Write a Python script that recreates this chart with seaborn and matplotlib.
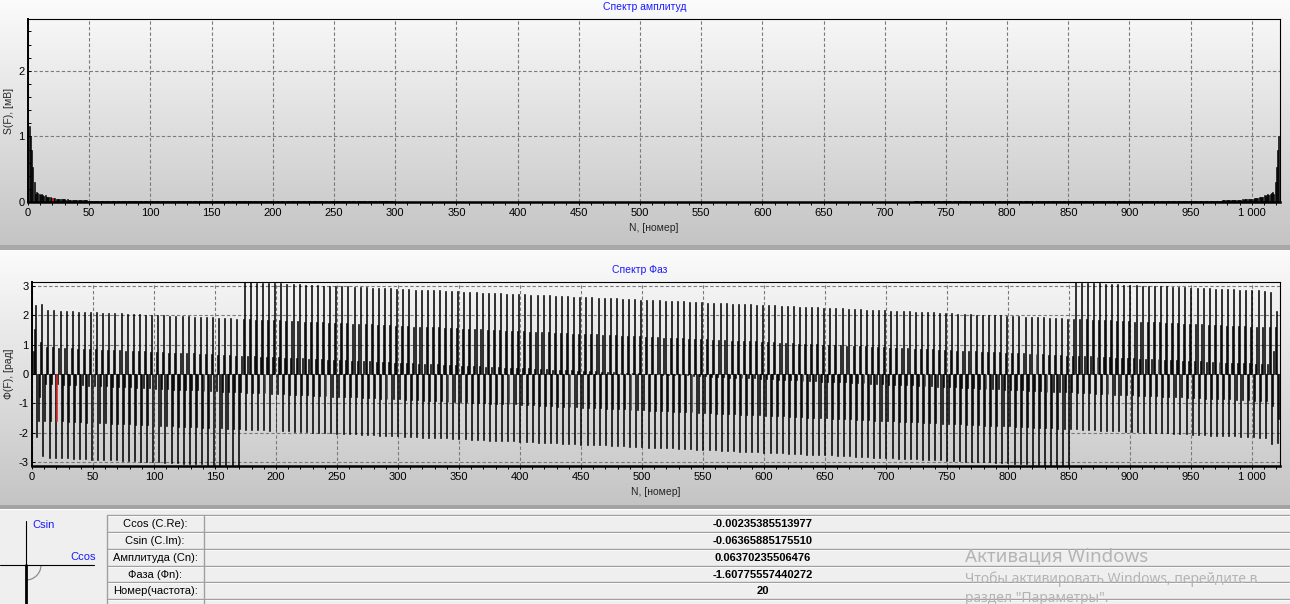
import numpy as np
import pandas as pd
import seaborn as sns
import matplotlib.pyplot as plt
from matplotlib.patches import Arc
from matplotlib.ticker import MultipleLocator, FuncFormatter

# Amplitude spectrum S(F), mV, harmonics 0..1023
amplitude = [
    2.79, 1.16, 1.00, 0.79, 0.53, 0.31, 0.12, 0.15, 0.14, 0.12,
    0.11, 0.12, 0.10, 0.09, 0.10, 0.08, 0.07, 0.08, 0.07, 0.06,
    0.0637, 0.06, 0.055, 0.05, 0.05, 0.045, 0.05, 0.045, 0.04, 0.04,
    0.04, 0.035, 0.04, 0.035, 0.03, 0.035, 0.03, 0.03, 0.03, 0.028,
    0.03, 0.027, 0.027, 0.025, 0.026, 0.024, 0.025, 0.023, 0.023, 0.022,
    0.022, 0.021, 0.022, 0.02, 0.021, 0.02, 0.019, 0.02, 0.018, 0.018,
    # 60..99
    .015, .015, .015, .015, .015, .015, .015, .015, .015, .015, .015, .015, .015, .015, .015, .015, .015, .015, .015, .015,
    .015, .015, .015, .015, .015, .015, .015, .015, .015, .015, .015, .015, .015, .015, .015, .015, .015, .015, .015, .015,
    # 100..199
    .01, .01, .01, .01, .01, .01, .01, .01, .01, .01, .01, .01, .01, .01, .01, .01, .01, .01, .01, .01,
    .01, .01, .01, .01, .01, .01, .01, .01, .01, .01, .01, .01, .01, .01, .01, .01, .01, .01, .01, .01,
    .01, .01, .01, .01, .01, .01, .01, .01, .01, .01, .01, .01, .01, .01, .01, .01, .01, .01, .01, .01,
    .01, .01, .01, .01, .01, .01, .01, .01, .01, .01, .01, .01, .01, .01, .01, .01, .01, .01, .01, .01,
    .01, .01, .01, .01, .01, .01, .01, .01, .01, .01, .01, .01, .01, .01, .01, .01, .01, .01, .01, .01,
    # 200..299
    .008, .008, .008, .008, .008, .008, .008, .008, .008, .008, .008, .008, .008, .008, .008, .008, .008, .008, .008, .008,
    .008, .008, .008, .008, .008, .008, .008, .008, .008, .008, .008, .008, .008, .008, .008, .008, .008, .008, .008, .008,
    .008, .008, .008, .008, .008, .008, .008, .008, .008, .008, .008, .008, .008, .008, .008, .008, .008, .008, .008, .008,
    .008, .008, .008, .008, .008, .008, .008, .008, .008, .008, .008, .008, .008, .008, .008, .008, .008, .008, .008, .008,
    .008, .008, .008, .008, .008, .008, .008, .008, .008, .008, .008, .008, .008, .008, .008, .008, .008, .008, .008, .008,
    # 300..399
    .006, .006, .006, .006, .006, .006, .006, .006, .006, .006, .006, .006, .006, .006, .006, .006, .006, .006, .006, .006,
    .006, .006, .006, .006, .006, .006, .006, .006, .006, .006, .006, .006, .006, .006, .006, .006, .006, .006, .006, .006,
    .006, .006, .006, .006, .006, .006, .006, .006, .006, .006, .006, .006, .006, .006, .006, .006, .006, .006, .006, .006,
    .006, .006, .006, .006, .006, .006, .006, .006, .006, .006, .006, .006, .006, .006, .006, .006, .006, .006, .006, .006,
    .006, .006, .006, .006, .006, .006, .006, .006, .006, .006, .006, .006, .006, .006, .006, .006, .006, .006, .006, .006,
    # 400..623
    .005, .005, .005, .005, .005, .005, .005, .005, .005, .005, .005, .005, .005, .005, .005, .005, .005, .005, .005, .005,
    .005, .005, .005, .005, .005, .005, .005, .005, .005, .005, .005, .005, .005, .005, .005, .005, .005, .005, .005, .005,
    .005, .005, .005, .005, .005, .005, .005, .005, .005, .005, .005, .005, .005, .005, .005, .005, .005, .005, .005, .005,
    .005, .005, .005, .005, .005, .005, .005, .005, .005, .005, .005, .005, .005, .005, .005, .005, .005, .005, .005, .005,
    .005, .005, .005, .005, .005, .005, .005, .005, .005, .005, .005, .005, .005, .005, .005, .005, .005, .005, .005, .005,
    .005, .005, .005, .005, .005, .005, .005, .005, .005, .005, .005, .005, .005, .005, .005, .005, .005, .005, .005, .005,
    .005, .005, .005, .005, .005, .005, .005, .005, .005, .005, .005, .005, .005, .005, .005, .005, .005, .005, .005, .005,
    .005, .005, .005, .005, .005, .005, .005, .005, .005, .005, .005, .005, .005, .005, .005, .005, .005, .005, .005, .005,
    .005, .005, .005, .005, .005, .005, .005, .005, .005, .005, .005, .005, .005, .005, .005, .005, .005, .005, .005, .005,
    .005, .005, .005, .005, .005, .005, .005, .005, .005, .005, .005, .005, .005, .005, .005, .005, .005, .005, .005, .005,
    .005, .005, .005, .005, .005, .005, .005, .005, .005, .005, .005, .005, .005, .005, .005, .005, .005, .005, .005, .005,
    .005, .005, .005, .005,
    # 624..723
    .006, .006, .006, .006, .006, .006, .006, .006, .006, .006, .006, .006, .006, .006, .006, .006, .006, .006, .006, .006,
    .006, .006, .006, .006, .006, .006, .006, .006, .006, .006, .006, .006, .006, .006, .006, .006, .006, .006, .006, .006,
    .006, .006, .006, .006, .006, .006, .006, .006, .006, .006, .006, .006, .006, .006, .006, .006, .006, .006, .006, .006,
    .006, .006, .006, .006, .006, .006, .006, .006, .006, .006, .006, .006, .006, .006, .006, .006, .006, .006, .006, .006,
    .006, .006, .006, .006, .006, .006, .006, .006, .006, .006, .006, .006, .006, .006, .006, .006, .006, .006, .006, .006,
    # 724..823
    .008, .008, .008, .008, .008, .008, .008, .008, .008, .008, .008, .008, .008, .008, .008, .008, .008, .008, .008, .008,
    .008, .008, .008, .008, .008, .008, .008, .008, .008, .008, .008, .008, .008, .008, .008, .008, .008, .008, .008, .008,
    .008, .008, .008, .008, .008, .008, .008, .008, .008, .008, .008, .008, .008, .008, .008, .008, .008, .008, .008, .008,
    .008, .008, .008, .008, .008, .008, .008, .008, .008, .008, .008, .008, .008, .008, .008, .008, .008, .008, .008, .008,
    .008, .008, .008, .008, .008, .008, .008, .008, .008, .008, .008, .008, .008, .008, .008, .008, .008, .008, .008, .008,
    # 824..923
    .01, .01, .01, .01, .01, .01, .01, .01, .01, .01, .01, .01, .01, .01, .01, .01, .01, .01, .01, .01,
    .01, .01, .01, .01, .01, .01, .01, .01, .01, .01, .01, .01, .01, .01, .01, .01, .01, .01, .01, .01,
    .01, .01, .01, .01, .01, .01, .01, .01, .01, .01, .01, .01, .01, .01, .01, .01, .01, .01, .01, .01,
    .01, .01, .01, .01, .01, .01, .01, .01, .01, .01, .01, .01, .01, .01, .01, .01, .01, .01, .01, .01,
    .01, .01, .01, .01, .01, .01, .01, .01, .01, .01, .01, .01, .01, .01, .01, .01, .01, .01, .01, .01,
    # 924..964
    .015, .015, .015, .015, .015, .015, .015, .015, .015, .015, .015, .015, .015, .015, .015, .015, .015, .015, .015, .015,
    .015, .015, .015, .015, .015, .015, .015, .015, .015, .015, .015, .015, .015, .015, .015, .015, .015, .015, .015, .015,
    .015,
    # 965..1023
    0.018, 0.018, 0.02, 0.019, 0.02, 0.021, 0.02, 0.022, 0.021,
    0.022, 0.022, 0.023, 0.023, 0.025, 0.024, 0.026, 0.025, 0.027, 0.027,
    0.03, 0.028, 0.03, 0.03, 0.03, 0.035, 0.03, 0.035, 0.04, 0.035,
    0.04, 0.04, 0.04, 0.045, 0.05, 0.045, 0.05, 0.05, 0.055, 0.06,
    0.064, 0.06, 0.07, 0.08, 0.07, 0.08, 0.10, 0.09, 0.10, 0.12,
    0.11, 0.12, 0.14, 0.15, 0.12, 0.31, 0.53, 0.79, 1.00, 1.16,
]

# Phase spectrum Ф(F), rad, harmonics 0..1023
phase = [
    3.14, 0.77, 1.55, 2.35, -2.15, -1.6, -0.8, 1.1, 2.4, -2.8,
    -1.59, -0.33, 0.92, 2.18, -2.85, -1.60, -0.34, 0.91, 2.17, -2.86,
    -1.61, -0.35, 0.90, 2.16, -2.87, -1.62, -0.36, 0.89, 2.15, -2.88,
    -1.63, -0.37, 0.88, 2.14, -2.89, -1.64, -0.38, 0.87, 2.13, -2.90,
    -1.65, -0.39, 0.86, 2.12, -2.91, -1.66, -0.40, 0.85, 2.11, -2.92,
    -1.67, -0.41, 0.84, 2.10, -2.93, -1.68, -0.42, 0.83, 2.09, -2.94,
    -1.68, -0.42, 0.83, 2.09, -2.94, -1.69, -0.43, 0.82, 2.08, -2.95,
    -1.70, -0.44, 0.81, 2.07, -2.96, -1.71, -0.45, 0.80, 2.06, -2.97,
    -1.72, -0.46, 0.79, 2.05, -2.98, -1.73, -0.47, 0.78, 2.04, -2.99,
    -1.74, -0.48, 0.77, 2.03, -3.00, -1.75, -0.49, 0.76, 2.02, -3.01,
    -1.76, -0.50, 0.75, 2.01, -3.02, -1.77, -0.51, 0.74, 2.00, -3.03,
    -1.78, -0.52, 0.73, 1.99, -3.04, -1.79, -0.53, 0.72, 1.98, -3.05,
    -1.80, -0.54, 0.71, 1.97, -3.06, -1.80, -0.54, 0.71, 1.97, -3.06,
    -1.81, -0.55, 0.70, 1.96, -3.07, -1.82, -0.56, 0.69, 1.95, -3.08,
    -1.83, -0.57, 0.68, 1.94, -3.09, -1.84, -0.58, 0.67, 1.93, -3.10,
    -1.85, -0.59, 0.66, 1.92, -3.11, -1.86, -0.60, 0.65, 1.91, -3.12,
    -1.87, -0.61, 0.64, 1.90, -3.13, -1.88, -0.62, 0.63, 1.89, -3.14,
    -1.89, -0.63, 0.62, 1.88, 3.14, -1.90, -0.64, 0.61, 1.87, 3.13,
    -1.91, -0.65, 0.60, 1.86, 3.12, -1.92, -0.66, 0.59, 1.85, 3.11,
    -1.92, -0.66, 0.59, 1.85, 3.11, -1.93, -0.67, 0.58, 1.84, 3.10,
    -1.94, -0.68, 0.57, 1.83, 3.09, -1.95, -0.69, 0.56, 1.82, 3.08,
    -1.96, -0.70, 0.55, 1.81, 3.07, -1.97, -0.71, 0.54, 1.80, 3.06,
    -1.98, -0.72, 0.53, 1.79, 3.05, -1.99, -0.73, 0.52, 1.78, 3.04,
    -2.00, -0.74, 0.51, 1.77, 3.03, -2.01, -0.75, 0.50, 1.76, 3.02,
    -2.02, -0.76, 0.49, 1.75, 3.01, -2.03, -0.77, 0.48, 1.74, 3.00,
    -2.04, -0.78, 0.47, 1.73, 2.99, -2.04, -0.78, 0.47, 1.73, 2.99,
    -2.05, -0.79, 0.46, 1.72, 2.98, -2.06, -0.80, 0.45, 1.71, 2.97,
    -2.07, -0.81, 0.44, 1.70, 2.96, -2.08, -0.82, 0.43, 1.69, 2.95,
    -2.09, -0.83, 0.42, 1.68, 2.94, -2.10, -0.84, 0.41, 1.67, 2.93,
    -2.11, -0.85, 0.40, 1.66, 2.92, -2.12, -0.86, 0.39, 1.65, 2.91,
    -2.13, -0.87, 0.38, 1.64, 2.90, -2.14, -0.88, 0.37, 1.63, 2.89,
    -2.15, -0.89, 0.36, 1.62, 2.88, -2.16, -0.90, 0.35, 1.61, 2.87,
    -2.17, -0.91, 0.34, 1.60, 2.86, -2.17, -0.91, 0.34, 1.60, 2.86,
    -2.18, -0.92, 0.33, 1.59, 2.85, -2.19, -0.93, 0.32, 1.58, 2.84,
    -2.20, -0.94, 0.31, 1.57, 2.83, -2.21, -0.95, 0.30, 1.56, 2.82,
    -2.22, -0.96, 0.29, 1.55, 2.81, -2.23, -0.97, 0.28, 1.54, 2.80,
    -2.24, -0.98, 0.27, 1.53, 2.79, -2.25, -0.99, 0.26, 1.52, 2.78,
    -2.26, -1.00, 0.25, 1.51, 2.77, -2.27, -1.01, 0.24, 1.50, 2.76,
    -2.28, -1.02, 0.23, 1.49, 2.75, -2.29, -1.03, 0.22, 1.48, 2.74,
    -2.29, -1.03, 0.22, 1.48, 2.74, -2.30, -1.04, 0.21, 1.47, 2.73,
    -2.31, -1.05, 0.20, 1.46, 2.72, -2.32, -1.06, 0.19, 1.45, 2.71,
    -2.33, -1.07, 0.18, 1.44, 2.70, -2.34, -1.08, 0.17, 1.43, 2.69,
    -2.35, -1.09, 0.16, 1.42, 2.68, -2.36, -1.10, 0.15, 1.41, 2.67,
    -2.37, -1.11, 0.14, 1.40, 2.66, -2.38, -1.12, 0.13, 1.39, 2.65,
    -2.39, -1.13, 0.12, 1.38, 2.64, -2.40, -1.14, 0.11, 1.37, 2.63,
    -2.41, -1.15, 0.10, 1.36, 2.62, -2.41, -1.15, 0.10, 1.36, 2.62,
    -2.42, -1.16, 0.09, 1.35, 2.61, -2.43, -1.17, 0.08, 1.34, 2.60,
    -2.44, -1.18, 0.07, 1.33, 2.59, -2.45, -1.19, 0.06, 1.32, 2.58,
    -2.46, -1.20, 0.05, 1.31, 2.57, -2.47, -1.21, 0.04, 1.30, 2.56,
    -2.48, -1.22, 0.03, 1.29, 2.55, -2.49, -1.23, 0.02, 1.28, 2.54,
    -2.50, -1.24, 0.01, 1.27, 2.53, -2.51, -1.25, 0.00, 1.26, 2.52,
    -2.52, -1.26, -0.01, 1.25, 2.51, -2.53, -1.27, -0.02, 1.24, 2.50,
    -2.53, -1.27, -0.02, 1.24, 2.50, -2.54, -1.28, -0.03, 1.23, 2.49,
    -2.55, -1.29, -0.04, 1.22, 2.48, -2.56, -1.30, -0.05, 1.21, 2.47,
    -2.57, -1.31, -0.06, 1.20, 2.46, -2.58, -1.32, -0.07, 1.19, 2.45,
    -2.59, -1.33, -0.08, 1.18, 2.44, -2.60, -1.34, -0.09, 1.17, 2.43,
    -2.61, -1.35, -0.10, 1.16, 2.42, -2.62, -1.36, -0.11, 1.15, 2.41,
    -2.63, -1.37, -0.12, 1.14, 2.40, -2.64, -1.38, -0.13, 1.13, 2.39,
    -2.65, -1.39, -0.14, 1.12, 2.38, -2.65, -1.39, -0.14, 1.12, 2.38,
    -2.66, -1.40, -0.15, 1.11, 2.37, -2.67, -1.41, -0.16, 1.10, 2.36,
    -2.68, -1.42, -0.17, 1.09, 2.35, -2.69, -1.43, -0.18, 1.08, 2.34,
    -2.70, -1.44, -0.19, 1.07, 2.33, -2.71, -1.45, -0.20, 1.06, 2.32,
    -2.72, -1.46, -0.21, 1.05, 2.31, -2.73, -1.47, -0.22, 1.04, 2.30,
    -2.74, -1.48, -0.23, 1.03, 2.29, -2.75, -1.49, -0.24, 1.02, 2.28,
    -2.76, -1.50, -0.25, 1.01, 2.27, -2.77, -1.51, -0.26, 1.00, 2.26,
    -2.77, -1.51, -0.26, 1.00, 2.26, -2.78, -1.52, -0.27, 0.99, 2.25,
    -2.79, -1.53, -0.28, 0.98, 2.24, -2.80, -1.54, -0.29, 0.97, 2.23,
    -2.81, -1.55, -0.30, 0.96, 2.22, -2.82, -1.56, -0.31, 0.95, 2.21,
    -2.83, -1.57, -0.32, 0.94, 2.20, -2.84, -1.58, -0.33, 0.93, 2.19,
    -2.85, -1.59, -0.34, 0.92, 2.18, -2.86, -1.60, -0.35, 0.91, 2.17,
    -2.87, -1.61, -0.36, 0.90, 2.16, -2.88, -1.62, -0.37, 0.89, 2.15,
    -2.89, -1.63, -0.38, 0.88, 2.14, -2.89, -1.63, -0.38, 0.88, 2.14,
    -2.90, -1.64, -0.39, 0.87, 2.13, -2.91, -1.65, -0.40, 0.86, 2.12,
    -2.92, -1.66, -0.41, 0.85, 2.11, -2.93, -1.67, -0.42, 0.84, 2.10,
    -2.94, -1.68, -0.43, 0.83, 2.09, -2.95, -1.69, -0.44, 0.82, 2.08,
    -2.96, -1.70, -0.45, 0.81, 2.07, -2.97, -1.71, -0.46, 0.80, 2.06,
    -2.98, -1.72, -0.47, 0.79, 2.05, -2.99, -1.73, -0.48, 0.78, 2.04,
    -3.00, -1.74, -0.49, 0.77, 2.03, -3.01, -1.75, -0.50, 0.76, 2.02,
    -3.02, -1.76, -0.51, 0.75, 2.01, -3.02, -1.76, -0.51, 0.75, 2.01,
    -3.03, -1.77, -0.52, 0.74, 2.00, -3.04, -1.78, -0.53, 0.73, 1.99,
    -3.05, -1.79, -0.54, 0.72, 1.98, -3.06, -1.80, -0.55, 0.71, 1.97,
    -3.07, -1.81, -0.56, 0.70, 1.96, -3.08, -1.82, -0.57, 0.69, 1.95,
    -3.09, -1.83, -0.58, 0.68, 1.94, -3.10, -1.84, -0.59, 0.67, 1.93,
    -3.11, -1.85, -0.60, 0.66, 1.92, -3.12, -1.86, -0.61, 0.65, 1.91,
    -3.13, -1.87, -0.62, 0.64, 1.90, -3.14, -1.88, -0.63, 0.63, 1.89,
    -3.14, -1.88, -0.63, 0.63, 1.89, 3.13, -1.89, -0.64, 0.62, 1.88,
    3.12, -1.90, -0.65, 0.61, 1.87, 3.11, -1.91, -0.66, 0.60, 1.86,
    3.10, -1.92, -0.67, 0.59, 1.85, 3.09, -1.93, -0.68, 0.58, 1.84,
    3.08, -1.94, -0.69, 0.57, 1.83, 3.07, -1.95, -0.70, 0.56, 1.82,
    3.06, -1.96, -0.71, 0.55, 1.81, 3.05, -1.97, -0.72, 0.54, 1.80,
    3.04, -1.98, -0.73, 0.53, 1.79, 3.03, -1.99, -0.74, 0.52, 1.78,
    3.02, -2.00, -0.75, 0.51, 1.77, 3.02, -2.00, -0.75, 0.51, 1.77,
    3.01, -2.01, -0.76, 0.50, 1.76, 3.00, -2.02, -0.77, 0.49, 1.75,
    2.99, -2.03, -0.78, 0.48, 1.74, 2.98, -2.04, -0.79, 0.47, 1.73,
    2.97, -2.05, -0.80, 0.46, 1.72, 2.96, -2.06, -0.81, 0.45, 1.71,
    2.95, -2.07, -0.82, 0.44, 1.70, 2.94, -2.08, -0.83, 0.43, 1.69,
    2.93, -2.09, -0.84, 0.42, 1.68, 2.92, -2.10, -0.85, 0.41, 1.67,
    2.91, -2.11, -0.86, 0.40, 1.66, 2.90, -2.12, -0.87, 0.39, 1.65,
    2.90, -2.12, -0.87, 0.39, 1.65, 2.89, -2.13, -0.88, 0.38, 1.64,
    2.88, -2.14, -0.89, 0.37, 1.63, 2.87, -2.15, -0.90, 0.36, 1.62,
    2.86, -2.16, -0.91, 0.35, 1.61, 2.85, -2.17, -0.92, 0.34, 1.60,
    2.84, -2.18, -0.93, 0.33, 1.59, 2.8, -2.4, -1.1, 0.8, 1.6,
    2.15, -2.35, -1.55, -0.77,
]

selected = 20  # highlighted harmonic (red bar)

table_labels = ["Ccos (C.Re):", "Csin (C.Im):", "Амплитуда (Cn):", "Фаза (Фn):", "Номер(частота):"]
table_values = ["-0.00235385513977", "-0.06365885175510", "0.06370235506476", "-1.60775557440272", "20"]

sns.set_style("ticks")
plt.rcParams["font.family"] = ["Liberation Sans", "DejaVu Sans"]
plt.rcParams["axes.unicode_minus"] = False

W, H = 1290, 604
fig = plt.figure(figsize=(W / 100, H / 100), dpi=100)

# window background (gradient panels + gray bottom panel)
bg = fig.add_axes([0, 0, 1, 1], zorder=0)
bg.set_xlim(0, W)
bg.set_ylim(H, 0)
bg.axis("off")
shade = np.full(H, 0.94)
shade[0:245] = np.linspace(0.985, 0.77, 245)
shade[245:250] = 0.66
shade[250:505] = np.linspace(0.985, 0.77, 255)
shade[505:509] = 0.64
shade[509] = 1.0
img = np.repeat(shade[:, None, None], 3, axis=2)
bg.imshow(img, extent=(0, W, H, 0), aspect="auto", interpolation="nearest")

N = list(range(len(amplitude)))
df = pd.DataFrame({
    "N": N,
    "S": amplitude,
    "Phi": phase,
    "sel": ["yes" if n == selected else "no" for n in N],
})
pal = {"no": "black", "yes": "red"}

ax1 = fig.add_axes([28 / W, 1 - 202 / H, 1252 / W, 183 / H], zorder=2)
ax2 = fig.add_axes([32 / W, 1 - 466 / H, 1248 / W, 184 / H], zorder=2)

sns.barplot(data=df, x="N", y="S", hue="sel", palette=pal, native_scale=True,
            dodge=False, width=0.8, errorbar=None, legend=False, ax=ax1)
sns.barplot(data=df, x="N", y="Phi", hue="sel", palette=pal, native_scale=True,
            dodge=False, width=0.8, errorbar=None, legend=False, ax=ax2)

# thicken the 1 px bars a little, like the original GDI drawing
for ax in (ax1, ax2):
    for p in ax.patches:
        p.set_edgecolor(p.get_facecolor())
        p.set_linewidth(0.4)


def style(ax, ylabel, label_x):
    ax.patch.set_alpha(0)
    ax.set_xlim(0, 1023)
    ax.xaxis.set_major_locator(MultipleLocator(50))
    ax.xaxis.set_minor_locator(MultipleLocator(10))
    ax.xaxis.set_major_formatter(FuncFormatter(lambda v, p: f"{int(round(v)):,}".replace(",", " ")))
    ax.grid(True, which="major", color="#7a7a7a", linestyle=(0, (3, 2)), linewidth=0.8)
    ax.set_axisbelow(True)
    for side in ["top", "right"]:
        ax.spines[side].set_linewidth(0.8)
        ax.spines[side].set_color("black")
    ax.spines["left"].set_linewidth(1.4)
    ax.spines["bottom"].set_linewidth(1.8)
    ax.spines["left"].set_color("black")
    ax.spines["bottom"].set_color("black")
    ax.tick_params(axis="x", which="both", direction="out", length=2.2, width=0.7,
                   labelsize=8, pad=2, colors="black")
    ax.tick_params(axis="y", which="both", direction="in", length=2, width=0.7,
                   labelsize=8, pad=2.5, colors="black")
    ax.set_xlabel("N, [номер]", fontsize=7.5)
    ax.xaxis.set_label_coords(0.5, -0.115)
    ax.set_ylabel(ylabel, fontsize=7.5)
    ax.yaxis.set_label_coords(label_x, 0.5)


style(ax1, "S(F), [мВ]", -0.011)
ax1.set_ylim(0, max(amplitude))
ax1.set_yticks([0, 1, 2])
ax1.yaxis.set_minor_locator(MultipleLocator(0.2))

style(ax2, "Ф(F), [рад]", -0.0145)
ax2.set_ylim(-3.14, 3.14)
ax2.set_yticks([-3, -2, -1, 0, 1, 2, 3])

# panel titles
bg.text(645, 7, "Спектр амплитуд", color="#1a1aff", fontsize=7.5, ha="center", va="center")
bg.text(640, 270, "Спектр Фаз", color="#1a1aff", fontsize=7.5, ha="center", va="center")

# vector sketch at bottom left
bg.plot([26, 26], [521, 565], color="black", lw=0.8)
bg.plot([26, 26], [565, 604], color="black", lw=2.0)
bg.plot([0, 94], [565, 565], color="black", lw=0.8)
bg.add_patch(Arc((26, 565), 30, 30, theta1=0, theta2=92, color="#8c8c8c", lw=0.9))
bg.text(32, 525, "Csin", color="#1a1aff", fontsize=8, ha="left", va="center")
bg.text(70, 557, "Ccos", color="#1a1aff", fontsize=8, ha="left", va="center")

# parameter table
rows_y = [515, 532, 549, 566, 582, 599]
for y in rows_y:
    bg.plot([107, W], [y, y], color="#a0a0a0", lw=1.0)
    bg.plot([107, W], [y + 1, y + 1], color="white", lw=0.6)
for x in [107, 204]:
    bg.plot([x, x], [515, 604], color="#a0a0a0", lw=1.0)
for i, (lab, val) in enumerate(zip(table_labels, table_values)):
    yc = (rows_y[i] + rows_y[i + 1]) / 2 + 0.5
    bg.text(155, yc, lab, fontsize=8, ha="center", va="center", color="black")
    bg.text(763, yc, val, fontsize=8, fontweight="bold", ha="center", va="center", color="black")

# Windows activation watermark
bg.text(965, 556, "Активация Windows", fontsize=13.5, color="#b4b4b4", ha="left", va="center",
        family=["Noto Sans", "DejaVu Sans"])
bg.text(965, 579, "Чтобы активировать Windows, перейдите в", fontsize=10, color="#b4b4b4",
        ha="left", va="center", family=["Noto Sans", "DejaVu Sans"])
bg.text(965, 598, "раздел \"Параметры\".", fontsize=10, color="#b4b4b4",
        ha="left", va="center", family=["Noto Sans", "DejaVu Sans"])

fig.savefig("out.png", dpi=100)
